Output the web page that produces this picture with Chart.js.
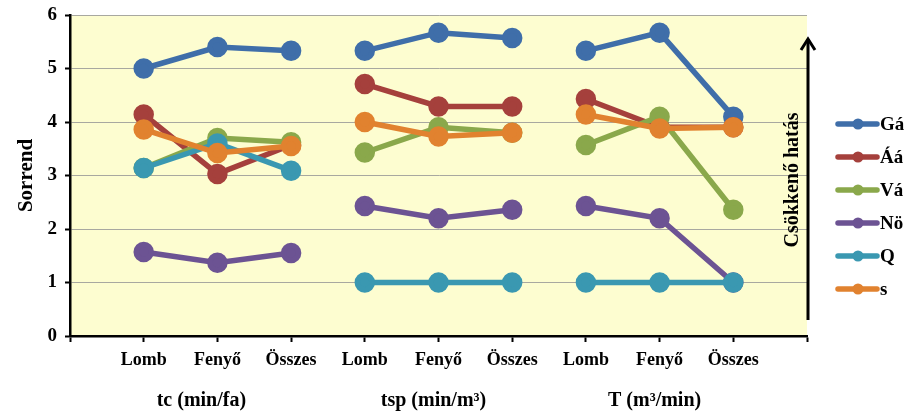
<!DOCTYPE html>
<html>
<head>
<meta charset="utf-8">
<script src="https://cdn.jsdelivr.net/npm/chart.js@4/dist/chart.umd.min.js"></script>
<style>
  html, body { margin: 0; padding: 0; background: #fff; }
  #wrap { width: 921px; height: 416px; }
</style>
</head>
<body>
<div id="wrap"><canvas id="rankChart" width="921" height="416"></canvas></div>
<script>
// categories (blank slots at both ends, like the original axis)
const categories = ['', 'Lomb', 'Fenyő', 'Összes', 'Lomb', 'Fenyő', 'Összes', 'Lomb', 'Fenyő', 'Összes', ''];
const groupLabels = ['tc (min/fa)', 'tsp (min/m³)', 'T (m³/min)'];
const seriesNames = ['Gá', 'Áá', 'Vá', 'Nö', 'Q', 's'];
const yTicks = [0, 1, 2, 3, 4, 5, 6];

// values: tc (Lomb, Fenyő, Összes), tsp (...), T (...)
const gaValues = [5.0, 5.4, 5.33, 5.33, 5.67, 5.57, 5.33, 5.67, 4.1];
const aaValues = [4.14, 3.03, 3.57, 4.71, 4.29, 4.29, 4.43, 3.9, 3.9];
const vaValues = [3.14, 3.7, 3.62, 3.43, 3.9, 3.8, 3.57, 4.1, 2.36];
const noValues = [1.57, 1.37, 1.55, 2.43, 2.2, 2.36, 2.43, 2.2, 1.0];
const qValues  = [3.14, 3.6, 3.09, 1.0, 1.0, 1.0, 1.0, 1.0, 1.0];
const sValues  = [3.86, 3.42, 3.55, 4.0, 3.73, 3.8, 4.14, 3.88, 3.9];

const colors = ['#3f6ea9', '#a5403c', '#8aa84b', '#6c5393', '#3a98b1', '#e1822f'];
const allValues = [gaValues, aaValues, vaValues, noValues, qValues, sValues];

const FONT = 'Liberation Serif';

const datasets = allValues.map(function (vals, i) {
  return {
    label: seriesNames[i],
    data: [null].concat(vals, [null]),
    borderColor: colors[i],
    backgroundColor: colors[i],
    pointBackgroundColor: colors[i],
    pointBorderColor: colors[i],
    borderWidth: 5.5,
    pointRadius: 7.5,
    pointHoverRadius: 7.5,
    tension: 0,
    order: 5 - i,
    segment: {
      borderColor: function (ctx) {
        return (ctx.p0DataIndex === 3 || ctx.p0DataIndex === 6) ? 'rgba(0,0,0,0)' : undefined;
      }
    }
  };
});

const bgPlugin = {
  id: 'plotBg',
  beforeDraw: function (chart) {
    const a = chart.chartArea;
    const ctx = chart.ctx;
    ctx.save();
    ctx.fillStyle = '#fdfdd0';
    ctx.fillRect(a.left, a.top, a.right - a.left, a.bottom - a.top);
    ctx.restore();
  }
};

const extrasPlugin = {
  id: 'extras',
  afterDraw: function (chart) {
    const ctx = chart.ctx;
    const xs = chart.scales.x;
    const a = chart.chartArea;
    ctx.save();
    // group labels under the categories
    ctx.fillStyle = '#000';
    ctx.font = 'bold 20px "' + FONT + '"';
    ctx.textAlign = 'center';
    ctx.textBaseline = 'middle';
    [2, 5, 8].forEach(function (idx, g) {
      ctx.fillText(groupLabels[g], xs.getPixelForValue(idx) - (g === 0 ? 16 : 5), 401);
    });

    // arrow
    const ax = a.right + 1;
    ctx.strokeStyle = '#000';
    ctx.lineWidth = 3;
    ctx.beginPath();
    ctx.moveTo(ax, 320);
    ctx.lineTo(ax, 39);
    ctx.stroke();
    ctx.beginPath();
    ctx.moveTo(ax - 7, 50);
    ctx.lineTo(ax, 39);
    ctx.lineTo(ax + 7, 50);
    ctx.stroke();

    // arrow text
    ctx.save();
    ctx.translate(793, 180);
    ctx.rotate(-Math.PI / 2);
    ctx.font = 'bold 20px "' + FONT + '"';
    ctx.fillText('Csökkenő hatás', 0, 0);
    ctx.restore();

    // legend
    ctx.textAlign = 'left';
    ctx.font = 'bold 19px "' + FONT + '"';
    seriesNames.forEach(function (name, i) {
      const y = 124 + i * 33;
      ctx.strokeStyle = colors[i];
      ctx.fillStyle = colors[i];
      ctx.lineWidth = 5.5;
      ctx.lineCap = 'round';
      ctx.beginPath();
      ctx.moveTo(838, y);
      ctx.lineTo(877, y);
      ctx.stroke();
      ctx.beginPath();
      ctx.arc(858, y, 5.5, 0, Math.PI * 2);
      ctx.fill();
      ctx.fillStyle = '#000';
      ctx.fillText(name, 880, y + 1);
    });
    ctx.restore();
  }
};

new Chart(document.getElementById('rankChart').getContext('2d'), {
  type: 'line',
  data: { labels: categories, datasets: datasets },
  options: {
    responsive: false,
    animation: false,
    spanGaps: false,
    layout: { padding: { top: 15, right: 114, left: 0, bottom: 0 } },
    plugins: {
      legend: { display: false },
      tooltip: { enabled: false }
    },
    scales: {
      x: {
        offset: false,
        grid: {
          display: true,
          drawOnChartArea: false,
          drawTicks: true,
          tickLength: 6,
          tickColor: '#000',
          tickWidth: 2
        },
        border: { display: true, color: '#000', width: 2.5 },
        ticks: {
          autoSkip: false,
          maxRotation: 0,
          color: '#000',
          padding: 8,
          font: { family: FONT, size: 18, weight: 'bold' }
        },
        afterFit: function (scale) { scale.height = 80; }
      },
      y: {
        min: 0,
        max: 6,
        afterBuildTicks: function (scale) {
          scale.ticks = yTicks.map(function (v) { return { value: v }; });
        },
        grid: {
          color: '#a8a8a0',
          lineWidth: 1,
          drawTicks: true,
          tickLength: 5,
          tickColor: '#000',
          tickWidth: 2
        },
        border: { display: true, color: '#000', width: 2.5 },
        ticks: {
          color: '#000',
          padding: 8,
          font: { family: FONT, size: 19, weight: 'bold' }
        },
        title: {
          display: true,
          text: 'Sorrend',
          color: '#000',
          padding: { top: 14, bottom: 0 },
          font: { family: FONT, size: 21, weight: 'bold' }
        },
        afterFit: function (scale) {
          scale.width = 70;
          scale.paddingTop = 0;
          scale.paddingBottom = 0;
        }
      }
    }
  },
  plugins: [bgPlugin, extrasPlugin]
});
</script>
</body>
</html>
